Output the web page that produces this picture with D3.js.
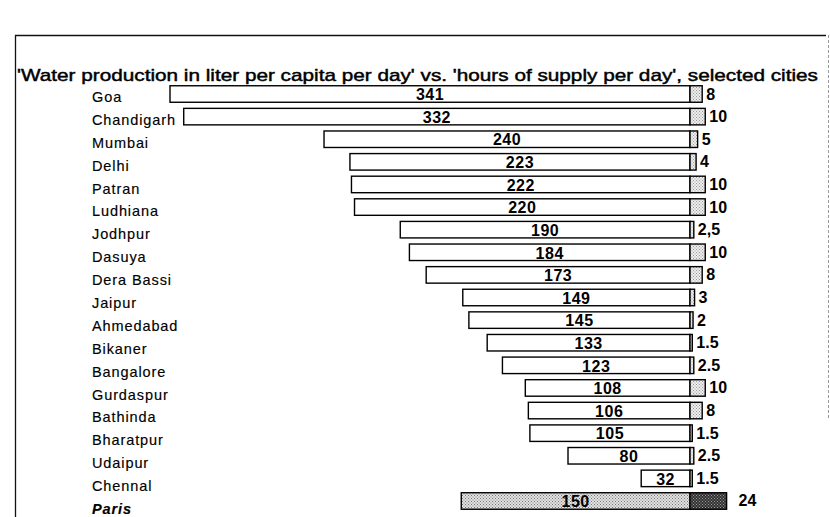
<!DOCTYPE html>
<html>
<head>
<meta charset="utf-8">
<script src="https://cdn.jsdelivr.net/npm/d3@7"></script>
<style>
  body { margin: 0; background: #fff; }
  svg { display: block; }
</style>
</head>
<body>
<div id="chart"></div>
<script>
// data
var cities = ["Goa", "Chandigarh", "Mumbai", "Delhi", "Patran", "Ludhiana", "Jodhpur", "Dasuya",
  "Dera Bassi", "Jaipur", "Ahmedabad", "Bikaner", "Bangalore", "Gurdaspur", "Bathinda",
  "Bharatpur", "Udaipur", "Chennal", "Paris"];
var litres = [341, 332, 240, 223, 222, 220, 190, 184, 173, 149, 145, 133, 123, 108, 106, 105, 80, 32, 150];
var hours = [8, 10, 5, 4, 10, 10, 2.5, 10, 8, 3, 2, 1.5, 2.5, 10, 8, 1.5, 2.5, 1.5, 24];
var hourLabels = ["8", "10", "5", "4", "10", "10", "2,5", "10", "8", "3", "2", "1.5", "2.5", "10", "8", "1.5", "2.5", "1.5", "24"];
var title = "'Water production in liter per capita per day' vs. 'hours of supply per day', selected cities";

var width = 830, height = 517;
var font = "Liberation Sans, Arial, sans-serif";

var rows = cities.map(function (c, i) {
  return { city: c, litres: litres[i], hours: hours[i], hourLabel: hourLabels[i], paris: c === "Paris" };
});

var svg = d3.select("#chart").append("svg")
  .attr("width", width)
  .attr("height", height);

// screen-tone patterns like the scan
var defs = svg.append("defs");
function tone(id, bg, dot, step) {
  var p = defs.append("pattern")
    .attr("id", id)
    .attr("patternUnits", "userSpaceOnUse")
    .attr("width", step).attr("height", step);
  p.append("rect").attr("width", step).attr("height", step).attr("fill", bg);
  p.append("rect").attr("x", 0).attr("y", 0).attr("width", 1).attr("height", 1).attr("fill", dot);
  p.append("rect").attr("x", step / 2).attr("y", step / 2).attr("width", 1).attr("height", 1).attr("fill", dot);
}
tone("toneLight", "#eeeeee", "#999", 3);
tone("toneParis", "#e2e2e2", "#777", 3);
tone("toneDark", "#333", "#999", 3);

// frame
svg.append("path")
  .attr("d", "M15.5," + height + "V35.5H826")
  .attr("fill", "none")
  .attr("stroke", "#111")
  .attr("stroke-width", 1.3);
svg.append("line")
  .attr("x1", 828.5).attr("x2", 828.5)
  .attr("y1", 35).attr("y2", 420)
  .attr("stroke", "#999")
  .attr("stroke-dasharray", "3,2");

// title
svg.append("text")
  .attr("x", 17)
  .attr("y", 81)
  .attr("font-family", font)
  .attr("font-size", "17px")
  .attr("stroke", "#000")
  .attr("stroke-width", 0.45)
  .attr("textLength", 801)
  .attr("lengthAdjust", "spacingAndGlyphs")
  .attr("fill", "#000")
  .text(title);

// litres go left from the common edge, hours go right
var x = d3.scaleLinear()
  .domain([-d3.max(litres), d3.max(hours)])
  .range([170, 726.6]);

var y = d3.scaleBand()
  .domain(cities)
  .range([82.7, 512.3])
  .paddingInner(0.27)
  .paddingOuter(0.135);

// city names drift a little lower than the bars in the scan
var yLabel = d3.scalePoint()
  .domain(cities)
  .range([97, 509]);

var g = svg.append("g");

// litre bars
g.selectAll("rect.litres")
  .data(rows)
  .enter()
  .append("rect")
  .attr("class", "litres")
  .attr("x", function (d) { return x(-d.litres); })
  .attr("y", function (d) { return y(d.city); })
  .attr("width", function (d) { return x(0) - x(-d.litres); })
  .attr("height", y.bandwidth())
  .attr("fill", function (d) { return d.paris ? "url(#toneParis)" : "#fff"; })
  .attr("stroke", "#000")
  .attr("stroke-width", 1.4);

// hours bars
g.selectAll("rect.hours")
  .data(rows)
  .enter()
  .append("rect")
  .attr("class", "hours")
  .attr("x", x(0))
  .attr("y", function (d) { return y(d.city); })
  .attr("width", function (d) { return x(d.hours) - x(0); })
  .attr("height", y.bandwidth())
  .attr("fill", function (d) { return d.paris ? "url(#toneDark)" : "url(#toneLight)"; })
  .attr("stroke", "#000")
  .attr("stroke-width", 1.4);

// litre values, centred in the bar, sitting on its lower edge
g.selectAll("text.val")
  .data(rows)
  .enter()
  .append("text")
  .attr("class", "val")
  .attr("x", function (d) { return (x(-d.litres) + x(0)) / 2; })
  .attr("y", function (d) { return y(d.city) + y.bandwidth() - 2; })
  .attr("text-anchor", "middle")
  .attr("font-family", font)
  .attr("font-weight", "bold")
  .attr("font-size", "16px")
  .attr("letter-spacing", "0.5px")
  .text(function (d) { return d.litres; });

// hours values
g.selectAll("text.hrs")
  .data(rows)
  .enter()
  .append("text")
  .attr("class", "hrs")
  .attr("x", function (d) { return x(d.hours) + (d.paris ? 12 : 4); })
  .attr("y", function (d) { return y(d.city) + y.bandwidth() / 2 + 5.5; })
  .attr("font-family", font)
  .attr("font-weight", "bold")
  .attr("font-size", "16px")
  .text(function (d) { return d.hourLabel; });

// city names
g.selectAll("text.city")
  .data(rows)
  .enter()
  .append("text")
  .attr("class", "city")
  .attr("x", 92)
  .attr("y", function (d) { return yLabel(d.city) + 5; })
  .attr("font-family", font)
  .attr("font-size", "14.5px")
  .attr("letter-spacing", "0.9px")
  .attr("stroke", "#000")
  .attr("stroke-width", 0.15)
  .attr("font-weight", function (d) { return d.paris ? "bold" : "normal"; })
  .attr("font-style", function (d) { return d.paris ? "italic" : "normal"; })
  .text(function (d) { return d.city; });
</script>
</body>
</html>
